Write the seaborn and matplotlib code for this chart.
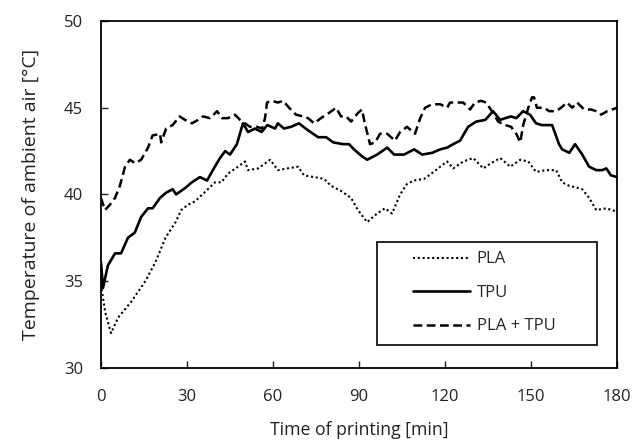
import pandas as pd
import matplotlib
matplotlib.use("Agg")
import matplotlib.pyplot as plt
from matplotlib.patches import Rectangle
import seaborn as sns

# values (time in min, temperature in degC)
pla_time = [0, 1.5, 3.5, 6, 10.5, 15.5, 19, 22.5, 26, 28, 30.3, 32.8, 36, 39.8, 42, 44.3, 47.8,
            50.2, 51.3, 54.8, 59, 61.7, 65, 68.7, 70.8, 74.3, 77.8, 80.2, 83.7, 87.2, 89.6,
            92.8, 96.3, 99, 101.5, 104.3, 106.7, 109, 112.7, 116, 118.3, 120.7, 122.8, 126.3,
            129.8, 133.3, 136, 139.2, 142.7, 146.2, 149, 151.7, 155.2, 158.7, 160.8, 163.2,
            165.7, 167.8, 170.2, 172.7, 176.2, 180]
pla_temp = [34.8, 33.2, 32.0, 32.9, 33.8, 35.0, 36.1, 37.5, 38.4, 39.1, 39.4, 39.6, 40.1, 40.7,
            40.7, 41.2, 41.6, 41.9, 41.4, 41.5, 42.0, 41.4, 41.5, 41.6, 41.1, 41.0, 40.9, 40.5,
            40.2, 39.8, 39.1, 38.4, 38.9, 39.2, 38.9, 40.0, 40.6, 40.8, 40.9, 41.3, 41.6, 41.9,
            41.5, 41.9, 42.1, 41.5, 41.8, 42.1, 41.6, 42.0, 41.9, 41.3, 41.4, 41.4, 40.7, 40.5,
            40.4, 40.3, 39.8, 39.1, 39.2, 39.0]

tpu_time = [0, 0.7, 2.4, 4.9, 7, 9.4, 11.8, 14, 16.4, 18, 20.6, 22.7, 25, 26.2, 29.6, 31.7,
            34.5, 37, 39, 41.5, 43.3, 45, 47.4, 49.5, 51.3, 53.7, 56, 58, 60.7, 61.7, 63.8,
            66.3, 69, 72.2, 75.7, 78.5, 81, 84.4, 86.5, 88.2, 91, 92.8, 96.3, 99.8, 102.2,
            105.7, 109.2, 112, 115.5, 118.3, 120.7, 122.8, 125.2, 128, 130.8, 134, 136.7,
            139.2, 141, 143, 144.8, 147.2, 149.6, 151.7, 153.8, 157.3, 159.7, 160.8, 163.3,
            165.3, 167.8, 170.2, 172.7, 174.7, 176.2, 177.8, 180]
tpu_temp = [36.1, 34.6, 35.9, 36.6, 36.6, 37.5, 37.8, 38.7, 39.2, 39.2, 39.8, 40.1, 40.3, 40.0,
            40.4, 40.7, 41.0, 40.8, 41.4, 42.1, 42.5, 42.3, 42.9, 44.1, 43.6, 43.8, 43.6, 44.0,
            43.8, 44.1, 43.8, 43.9, 44.1, 43.7, 43.3, 43.3, 43.0, 42.9, 42.9, 42.6, 42.2, 42.0,
            42.3, 42.7, 42.3, 42.3, 42.6, 42.3, 42.4, 42.6, 42.7, 42.9, 43.1, 43.9, 44.2, 44.3,
            44.8, 44.3, 44.4, 44.5, 44.4, 44.8, 44.6, 44.1, 44.0, 44.0, 42.9, 42.6, 42.4, 42.9,
            42.3, 41.6, 41.4, 41.4, 41.5, 41.1, 41.0]

mix_time = [0, 1.4, 3.1, 4.9, 6.6, 8.4, 10.1, 11.9, 14, 16.4, 18, 20.6, 21, 22.7, 25, 27.4,
            29.3, 31.7, 33.9, 35.6, 38, 40.5, 42.2, 44.3, 46.7, 48.5, 50.2, 52, 54.4, 56.2,
            57.2, 57.9, 59.6, 61.7, 63.5, 65.6, 68, 70.5, 72.2, 74.3, 76.7, 79.5, 82, 83.7,
            85.5, 87.2, 89.6, 91, 92, 93.8, 95.6, 97.3, 99.8, 102.5, 104.3, 106.7, 109.5,
            111.3, 113, 115.5, 118.3, 120.7, 121.7, 123.8, 126.3, 128.7, 130.4, 132.5, 134.3,
            136.7, 138.5, 141, 143, 144.8, 146.2, 147.2, 149, 150.3, 151, 152, 154.5, 156.3,
            158.7, 160.4, 162.5, 164.3, 166, 168.5, 170.9, 172.7, 174.4, 176.5, 180]
mix_temp = [39.8, 39.1, 39.4, 39.8, 40.5, 41.6, 42.0, 41.8, 42.0, 42.7, 43.4, 43.5, 43.0, 43.8,
            44.0, 44.5, 44.3, 44.1, 44.3, 44.5, 44.4, 44.8, 44.4, 44.4, 44.6, 44.3, 44.1, 43.9,
            43.9, 43.8, 44.4, 45.3, 45.4, 45.3, 45.4, 45.0, 44.6, 44.5, 44.4, 44.1, 44.4, 44.7,
            45.0, 44.5, 44.5, 44.2, 44.7, 44.9, 44.1, 42.9, 43.0, 43.5, 43.5, 43.1, 43.6, 43.9,
            43.5, 44.4, 45.0, 45.2, 45.2, 45.0, 45.3, 45.3, 45.3, 44.9, 45.3, 45.4, 45.3, 44.7,
            44.2, 44.0, 43.9, 43.5, 43.0, 44.0, 45.0, 45.6, 45.6, 45.0, 45.0, 44.8, 44.8, 45.0,
            45.3, 45.0, 45.3, 44.9, 44.9, 44.8, 44.6, 44.8, 45.0]

x_ticks = [0, 30, 60, 90, 120, 150, 180]
y_ticks = [30, 35, 40, 45, 50]

sns.set_style("ticks")
plt.rcParams['font.family'] = ['Open Sans', 'DejaVu Sans']
plt.rcParams['xtick.direction'] = 'in'
plt.rcParams['ytick.direction'] = 'in'

fig = plt.figure(figsize=(6.35, 4.48), dpi=100)
ax = fig.add_axes([0.159, 0.179, 0.813, 0.774])

sns.lineplot(x=pla_time, y=pla_temp, ax=ax, color='black', lw=1.5, label='PLA')
sns.lineplot(x=tpu_time, y=tpu_temp, ax=ax, color='black', lw=1.9, label='TPU')
sns.lineplot(x=mix_time, y=mix_temp, ax=ax, color='black', lw=1.8, label='PLA + TPU')
lines = ax.get_lines()
lines[0].set_linestyle((0, (1, 1.3)))
lines[2].set_linestyle((0, (3.5, 1.8)))

ax.set_xlim(0, 180)
ax.set_ylim(30, 50)
ax.set_xticks(x_ticks)
ax.set_yticks(y_ticks)
ax.tick_params(length=5, width=1, labelsize=12, colors='#222222')
ax.tick_params(axis='x', pad=15)
ax.tick_params(axis='y', pad=13)
for s in ax.spines.values():
    s.set_visible(True)
    s.set_color('black')
    s.set_linewidth(1.3)

ax.set_xlabel('Time of printing [min]', fontsize=12.7, color='#222222', labelpad=12)
ax.set_ylabel('Temperature of ambient air [°C]', fontsize=14, color='#222222', labelpad=17)

# legend: text/handles without frame, box drawn around them
leg = ax.legend(loc='center left', bbox_to_anchor=(0.605, 0.216), fontsize=12, frameon=False,
                handlelength=3.4, labelspacing=1.05, borderpad=0, borderaxespad=0,
                handletextpad=0.4)
ax.add_patch(Rectangle((0.535, 0.066), 0.426, 0.297, transform=ax.transAxes, fill=False,
                       edgecolor='black', lw=1.2, zorder=5))

fig.savefig('out.png', dpi=100)
